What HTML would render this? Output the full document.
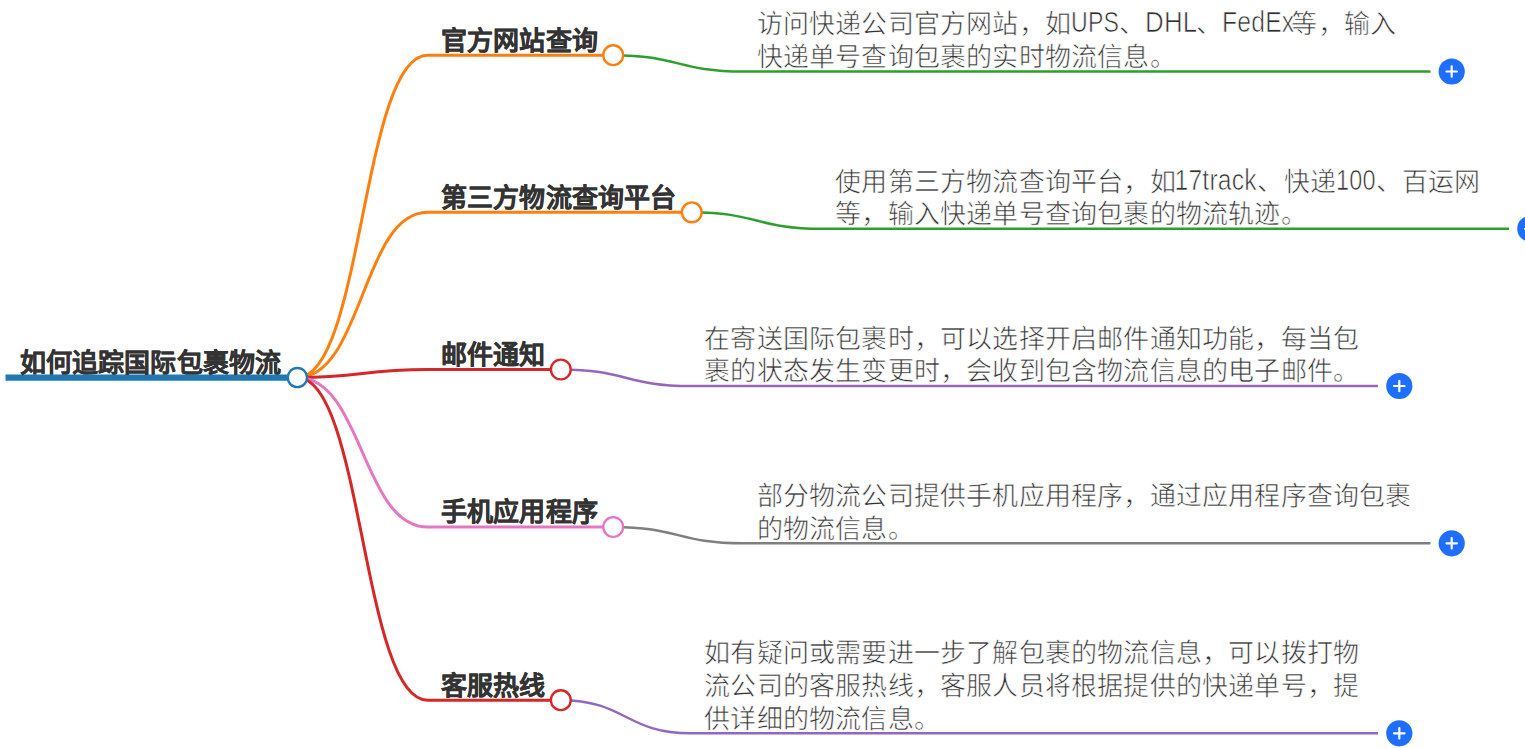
<!DOCTYPE html>
<html lang="zh-CN"><head><meta charset="utf-8"><style>
html,body{margin:0;padding:0;background:#fff;width:1525px;height:748px;overflow:hidden}
body{position:relative;font-family:"Liberation Sans",sans-serif}
svg{position:absolute;left:0;top:0}
.t,.d{position:absolute;white-space:nowrap;font-size:26px;line-height:32px;letter-spacing:0.2px}
.t{font-weight:bold;color:#333;-webkit-text-stroke:0.3px #333}
.d{color:#333;-webkit-text-stroke:0.6px #fff}
.l{display:inline-block;white-space:nowrap}
.l>span{display:inline-block;transform-origin:0 25px}
</style></head><body>
<svg width="1525" height="748" viewBox="0 0 1525 748">
<line x1="5.5" y1="377.6" x2="297.4" y2="377.6" stroke="#1f77b4" stroke-width="6.2"/>
<path d="M297.4,377.6 C362.45,377.6 362.45,55.2 427.5,55.2 H613.2" fill="none" stroke="#ff7f0e" stroke-width="3"/>
<path d="M613.2,55.2 C678.1,55.2 678.1,71.5 743.0,71.5 H1430.5" fill="none" stroke="#2ca02c" stroke-width="2.5"/>
<circle cx="1451.7" cy="71.5" r="13.1" fill="#1e6fff"/>
<path d="M1446.45,71.5 H1456.95 M1451.7,66.25 V76.75" stroke="#fff" stroke-width="2.2" stroke-linecap="round"/>
<circle cx="613.2" cy="55.2" r="9.9" fill="#fff" stroke="#ff7f0e" stroke-width="2.4"/>
<path d="M297.4,377.6 C362.45,377.6 362.45,212.3 427.5,212.3 H691.8" fill="none" stroke="#ff7f0e" stroke-width="3"/>
<path d="M691.8,212.3 C756.7,212.3 756.7,228.8 821.6,228.8 H1509.1" fill="none" stroke="#2ca02c" stroke-width="2.5"/>
<circle cx="1530.3" cy="228.8" r="13.1" fill="#1e6fff"/>
<path d="M1525.05,228.8 H1535.55 M1530.3,223.55 V234.05" stroke="#fff" stroke-width="2.2" stroke-linecap="round"/>
<circle cx="691.8" cy="212.3" r="9.9" fill="#fff" stroke="#ff7f0e" stroke-width="2.4"/>
<path d="M297.4,377.6 C362.45,377.6 362.45,369.5 427.5,369.5 H560.8" fill="none" stroke="#d62728" stroke-width="3"/>
<path d="M560.8,369.5 C625.7,369.5 625.7,386.0 690.6,386.0 H1378.1" fill="none" stroke="#9467bd" stroke-width="2.5"/>
<circle cx="1399.3" cy="386.0" r="13.1" fill="#1e6fff"/>
<path d="M1394.05,386.0 H1404.55 M1399.3,380.75 V391.25" stroke="#fff" stroke-width="2.2" stroke-linecap="round"/>
<circle cx="560.8" cy="369.5" r="9.9" fill="#fff" stroke="#d62728" stroke-width="2.4"/>
<path d="M297.4,377.6 C362.45,377.6 362.45,527.0 427.5,527.0 H613.2" fill="none" stroke="#e377c2" stroke-width="3"/>
<path d="M613.2,527.0 C678.1,527.0 678.1,543.3 743.0,543.3 H1430.5" fill="none" stroke="#7f7f7f" stroke-width="2.5"/>
<circle cx="1451.7" cy="543.3" r="13.1" fill="#1e6fff"/>
<path d="M1446.45,543.3 H1456.95 M1451.7,538.05 V548.55" stroke="#fff" stroke-width="2.2" stroke-linecap="round"/>
<circle cx="613.2" cy="527.0" r="9.9" fill="#fff" stroke="#e377c2" stroke-width="2.4"/>
<path d="M297.4,377.6 C362.45,377.6 362.45,700.2 427.5,700.2 H560.8" fill="none" stroke="#d62728" stroke-width="3"/>
<path d="M560.8,700.2 C625.7,700.2 625.7,733.3 690.6,733.3 H1378.1" fill="none" stroke="#9467bd" stroke-width="2.5"/>
<circle cx="1399.3" cy="733.3" r="13.1" fill="#1e6fff"/>
<path d="M1394.05,733.3 H1404.55 M1399.3,728.05 V738.55" stroke="#fff" stroke-width="2.2" stroke-linecap="round"/>
<circle cx="560.8" cy="700.2" r="9.9" fill="#fff" stroke="#d62728" stroke-width="2.4"/>
<circle cx="297.4" cy="377.6" r="9.6" fill="#fff" stroke="#1f77b4" stroke-width="2.3"/>
</svg>
<div class="t" style="left:440.8px;top:25px">官方网站查询</div>
<div class="d" style="left:756.6px;top:8.00px">访问快递公司官方网站，如<span class="l" style="width:48.0px"><span style="transform:translate(0px,-0.6px) scale(0.89,1.13)">UPS</span></span>、<span class="l" style="width:50.7px"><span style="transform:translate(0px,-0.6px) scale(0.9964,1.13)">DHL</span></span>、<span class="l" style="width:69.3px"><span style="transform:translate(0px,-0.6px) scale(0.95,1.13)">FedEx</span></span>等，输入</div>
<div class="d" style="left:756.6px;top:41.00px">快递单号查询包裹的实时物流信息。</div>
<div class="t" style="left:440.8px;top:182px">第三方物流查询平台</div>
<div class="d" style="left:835.2px;top:166.00px">使用第三方物流查询平台，如<span class="l" style="width:81.6px"><span style="transform:translate(-1.5px,-0.6px) scale(0.95,1.13)">17track</span></span>、快递<span class="l" style="width:39.5px"><span style="transform:translate(0px,-0.6px) scale(0.9038,1.13)">100</span></span>、百运网</div>
<div class="d" style="left:835.2px;top:198.00px">等，输入快递单号查询包裹的物流轨迹。</div>
<div class="t" style="left:440.8px;top:339px">邮件通知</div>
<div class="d" style="left:704.2px;top:323.00px">在寄送国际包裹时，可以选择开启邮件通知功能，每当包</div>
<div class="d" style="left:704.2px;top:355.00px">裹的状态发生变更时，会收到包含物流信息的电子邮件。</div>
<div class="t" style="left:440.8px;top:496px">手机应用程序</div>
<div class="d" style="left:756.6px;top:480.00px">部分物流公司提供手机应用程序，通过应用程序查询包裹</div>
<div class="d" style="left:756.6px;top:513.00px">的物流信息。</div>
<div class="t" style="left:440.8px;top:670px">客服热线</div>
<div class="d" style="left:704.2px;top:637.00px">如有疑问或需要进一步了解包裹的物流信息，可以拨打物</div>
<div class="d" style="left:704.2px;top:670.00px">流公司的客服热线，客服人员将根据提供的快递单号，提</div>
<div class="d" style="left:704.2px;top:703.00px">供详细的物流信息。</div>
<div class="t" style="left:19.5px;top:347.0px">如何追踪国际包裹物流</div>
</body></html>
